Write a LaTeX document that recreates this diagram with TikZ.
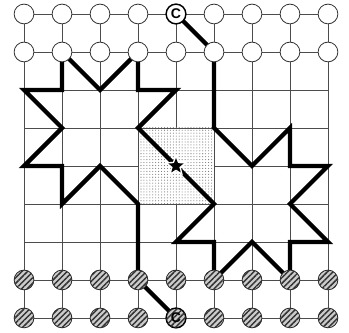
\documentclass[tikz,border=0pt]{standalone}
\usepackage{fontspec}
\setmainfont{Liberation Sans}
\usetikzlibrary{patterns.meta,shapes.geometric}
\begin{document}
\begin{tikzpicture}[x=1cm,y=1cm,
  gridline/.style={line width=0.6pt, black!70},
  route/.style={line width=3.2pt, line join=miter, black},
  opencirc/.style={circle, draw=black!80, line width=0.6pt, fill=white, minimum size=0.52cm, inner sep=0pt},
  hatchcirc/.style={circle, draw=black!85, line width=0.6pt, fill=gray!40,
     postaction={pattern={Lines[angle=45,distance=3pt,line width=1.1pt]}, pattern color=black!80},
     minimum size=0.52cm, inner sep=0pt},
  cfont/.style={font=\bfseries\fontsize{10.5}{10.5}\selectfont}
]
\useasboundingbox (-0.632,0.368) rectangle (8.553,-8.395);
% grid points
\foreach \c in {0,...,8} {\foreach \r in {0,...,8} {\coordinate (g-\c-\r) at (\c,-\r);}}
% grid lines
\foreach \r in {0,...,8} {\draw[gridline] (g-0-\r) -- (g-8-\r);}
\foreach \c in {0,...,8} {\draw[gridline] (g-\c-0) -- (g-\c-8);}
% shaded square
\fill[white] (g-3-3) rectangle (g-5-5);
\fill[pattern={Dots[distance=2.2pt,radius=0.4pt]}, pattern color=black!55] (g-3-3) rectangle (g-5-5);
\draw[gridline] (g-3-3) rectangle (g-5-5);
% route
\draw[route] (g-4-0) -- (g-5-1) -- (g-5-3) -- (g-6-4) -- (g-7-3) -- (g-7-4) -- (g-8-4)
  -- (g-7-5) -- (g-8-6) -- (g-7-6) -- (g-7-7) -- (g-6-6) -- (g-5-7) -- (g-5-6) -- (g-4-6)
  -- (g-5-5) -- (g-3-3) -- (g-4-2) -- (g-3-2) -- (g-3-1) -- (g-2-2) -- (g-1-1) -- (g-1-2)
  -- (g-0-2) -- (g-1-3) -- (g-0-4) -- (g-1-4) -- (g-1-5) -- (g-2-4) -- (g-3-5) -- (g-3-7)
  -- (g-4-8);
% star
\node[star, star points=5, star point ratio=2.3, fill=white, minimum size=0.62cm, inner sep=0pt] (starhalo) at (g-4-4) {};
\node[star, star points=5, star point ratio=2.3, fill=black, minimum size=0.42cm, inner sep=0pt] (starmark) at (g-4-4) {};
% circles top
\foreach \c in {0,1,2,3,5,6,7,8} {\node[opencirc] (n-\c-0) at (g-\c-0) {};}
\foreach \c in {0,...,8} {\node[opencirc] (n-\c-1) at (g-\c-1) {};}
\node[opencirc, draw=black, line width=1.1pt, cfont] (ctop) at (g-4-0) {C};
% circles bottom
\foreach \c in {0,...,8} {\node[hatchcirc] (n-\c-7) at (g-\c-7) {};}
\foreach \c in {0,1,2,3,5,6,7,8} {\node[hatchcirc] (n-\c-8) at (g-\c-8) {};}
\node[hatchcirc, draw=black, line width=1.1pt, cfont] (cbot) at (g-4-8) {C};
\end{tikzpicture}
\end{document}
